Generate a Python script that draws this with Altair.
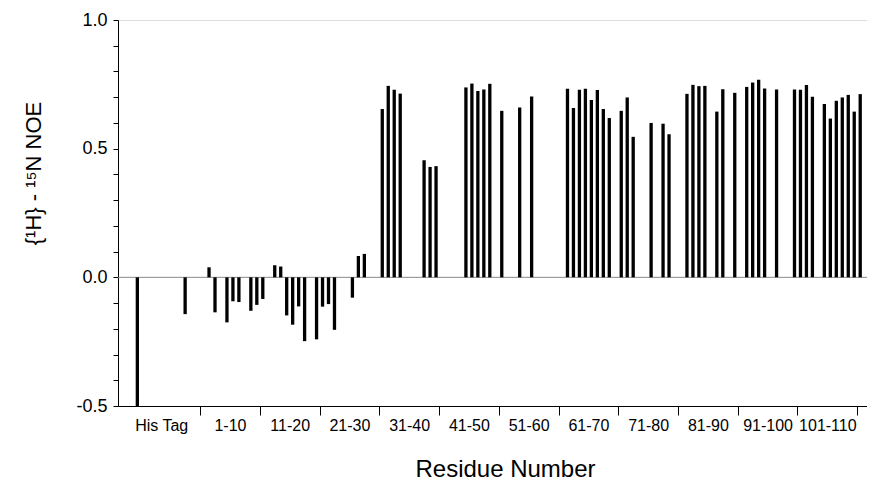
import altair as alt
import pandas as pd

# Residue numbers (His tag residues numbered negative) and {1H}-15N NOE values
residues = [-10, -2,
            2, 3, 5, 6, 7, 9, 10,
            11, 13, 14, 15, 16, 17, 18, 20,
            21, 22, 23, 26, 27, 28,
            31, 32, 33, 34, 38, 39, 40,
            45, 46, 47, 48, 49,
            51, 54, 56,
            62, 63, 64, 65, 66, 67, 68, 69,
            71, 72, 73, 76, 78, 79,
            82, 83, 84, 85, 87, 88, 90,
            92, 93, 94, 95, 97, 100,
            101, 102, 103, 105, 106, 107, 108, 109, 110, 111]
noe = [-0.50, -0.143,
       0.039, -0.136, -0.175, -0.093, -0.096, -0.130, -0.107,
       -0.084, 0.047, 0.042, -0.148, -0.184, -0.113, -0.248, -0.241,
       -0.114, -0.104, -0.204, -0.079, 0.083, 0.091,
       0.654, 0.744, 0.729, 0.714, 0.455, 0.429, 0.432,
       0.738, 0.753, 0.724, 0.730, 0.752,
       0.647, 0.660, 0.703,
       0.733, 0.658, 0.729, 0.733, 0.689, 0.728, 0.654, 0.619,
       0.647, 0.699, 0.546, 0.600, 0.597, 0.556,
       0.713, 0.748, 0.743, 0.744, 0.644, 0.731, 0.717,
       0.740, 0.757, 0.768, 0.734, 0.730, 0.730,
       0.729, 0.747, 0.702, 0.674, 0.617, 0.686, 0.699, 0.709, 0.644, 0.712]

group_labels = ["His Tag", "1-10", "11-20", "21-30", "31-40", "41-50", "51-60",
                "61-70", "71-80", "81-90", "91-100", "101-110"]
group_centers = [-6, 5.5, 15.5, 25.5, 35.5, 45.5, 55.5, 65.5, 75.5, 85.5, 95.5, 105.5]
group_bounds = [0.5, 10.5, 20.5, 30.5, 40.5, 50.5, 60.5, 70.5, 80.5, 90.5, 100.5, 110.5]
y_ticks = [-0.5, -0.4, -0.3, -0.2, -0.1, 0.0, 0.1, 0.2, 0.3, 0.4, 0.5, 0.6, 0.7, 0.8, 0.9, 1.0]
y_labelled = [-0.5, 0.0, 0.5, 1.0]
y_label_text = ["-0.5", "0.0", "0.5", "1.0"]

df = pd.DataFrame({"residue": residues, "noe": noe})
zero_df = pd.DataFrame({"v": [0.0]})

FONT = "Liberation Sans"

x_scale = alt.Scale(domain=[-12.4, 111.3], nice=False, zero=False)
y_scale = alt.Scale(domain=[-0.5, 1.0], nice=False, zero=False)

x_label_expr = "".join(
    f"abs(datum.value - ({c})) < 0.01 ? '{l}' : " for c, l in zip(group_centers, group_labels)
) + "''"
bounds_str = ",".join(str(b) for b in group_bounds)
tick_test = f"indexof([{bounds_str}], datum.value) >= 0"

y_label_expr = "".join(
    f"abs(datum.value - ({v})) < 0.001 ? '{t}' : " for v, t in zip(y_labelled, y_label_text)
) + "''"

x_axis = alt.Axis(
    values=group_bounds + group_centers,
    labelExpr=x_label_expr,
    tickOpacity={"condition": {"test": tick_test, "value": 1}, "value": 0},
    tickSize=9, tickColor="black", tickWidth=1,
    domainColor="black", domainWidth=1,
    labelFont=FONT, labelFontSize=16, labelColor="black", labelPadding=2,
    labelOverlap=False, labelFlush=False, labelBound=False, labelAngle=0,
    grid=False,
    title="Residue Number", titleFont=FONT, titleFontSize=24, titleFontWeight="normal",
    titleColor="black", titleX=387, titleY=70, titleAlign="center",
    titleBaseline="alphabetic",
)

y_axis = alt.Axis(
    values=y_ticks,
    labelExpr=y_label_expr,
    tickSize=5, tickColor="black", tickWidth=1,
    domainColor="black", domainWidth=1,
    labelFont=FONT, labelFontSize=18, labelColor="black", labelPadding=6,
    labelOverlap=False, labelFlush=False, labelBound=False,
    grid=False,
    title="{¹H} - ¹⁵N NOE", titleFont=FONT, titleFontSize=22, titleFontWeight="normal",
    titleColor="black", titleAngle=270, titleX=-78, titleY=153, titleAlign="center",
    titleBaseline="alphabetic",
)

zero_line = alt.Chart(zero_df).mark_rule(color="#8a8a8a", strokeWidth=1).encode(
    y=alt.Y("v:Q", scale=y_scale, axis=y_axis)
)

bars = alt.Chart(df).mark_bar(color="black", size=3.3).encode(
    x=alt.X("residue:Q", scale=x_scale, axis=x_axis),
    y=alt.Y("noe:Q", scale=y_scale, axis=y_axis),
    y2=alt.datum(0),
)

chart = alt.layer(zero_line, bars).properties(
    width=749,
    height=386,
    autosize=alt.AutoSizeParams(type="none"),
    padding={"left": 110, "top": 12, "right": 0, "bottom": 75},
).configure_view(stroke=None).configure(background="white")

chart.save("out.html", embed_options={"renderer": "svg", "actions": False})
